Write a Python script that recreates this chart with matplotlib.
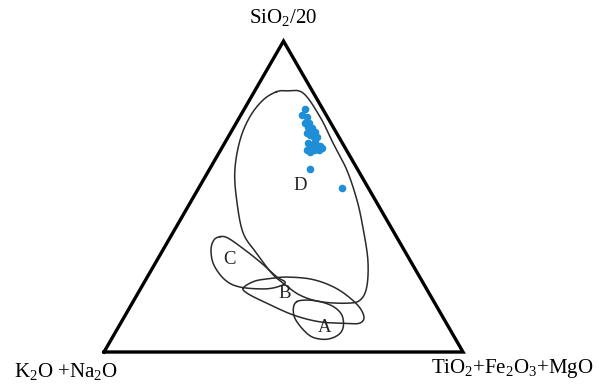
#SiO2/20 - (K2O+Na2O) - (TiO2+Fe2O3+MgO) 三角図
import numpy as np
from matplotlib import pyplot as plt

plt.rcParams['font.family'] = ['Liberation Serif', 'DejaVu Serif']
plt.rcParams['mathtext.fontset'] = 'custom'
plt.rcParams['mathtext.rm'] = 'Liberation Serif'
plt.rcParams['mathtext.it'] = 'Liberation Serif:italic'

# 頂点ラベル
top_label = 'SiO$_2$/20'
left_label = 'K$_2$O +Na$_2$O'
right_label = 'TiO$_2$+Fe$_2$O$_3$+MgO'

# サンプル (SiO2/20 %, TiO2+Fe2O3+MgO %)
sio2 = [78.1, 76.2, 75.5, 73.6, 73.6, 72.5, 72.0, 70.9, 70.3, 69.8, 69.1, 69.3,
        67.6, 67.1, 66.0, 66.0, 66.3, 65.0, 64.4, 65.0, 65.0, 65.5, 58.8, 52.8]
femg = [16.9, 17.0, 18.8, 19.1, 20.4, 20.6, 22.0, 23.3, 21.4, 22.6, 23.9, 24.7,
        25.0, 23.3, 24.9, 26.3, 27.1, 24.1, 25.3, 25.9, 27.3, 28.0, 28.0, 40.0]

# 区分領域の境界 (SiO2/20 %, TiO2+Fe2O3+MgO %)
field_d_si = [83.7, 84.0, 83.3, 75.6, 67.2, 58.5, 48.9, 40.2, 29.6, 21.0, 16.7, 15.7,
              16.2, 18.3, 22.1, 25.3, 31.7, 38.3, 48.9, 58.5, 68.2, 75.7, 81.1]
field_d_fe = [6.2, 8.9, 13.8, 22.4, 30.2, 38.4, 46.0, 52.0, 58.7, 62.7, 63.0, 59.8,
              52.1, 45.4, 38.9, 34.1, 26.7, 19.6, 12.5, 7.2, 3.8, 2.8, 3.8]
field_c_si = [37.1, 36.6, 32.8, 28.5, 24.2, 22.5, 21.2, 20.3, 20.9, 23.2, 28.0, 32.8, 36.0]
field_c_fe = [13.8, 16.3, 22.9, 29.7, 36.0, 39.2, 38.4, 34.7, 27.4, 22.1, 16.6, 13.4, 12.6]
field_b_si = [20.6, 22.8, 23.6, 24.1, 23.3, 20.3, 15.4, 11.4, 9.3, 9.2, 9.7, 11.9, 15.7, 18.7]
field_b_fe = [28.5, 30.6, 34.4, 38.9, 46.6, 54.8, 62.7, 66.7, 66.6, 63.0, 55.3, 46.8, 37.5, 30.8]
field_a_si = [16.2, 16.7, 16.2, 14.6, 11.9, 8.1, 5.5, 4.1, 4.7, 7.1, 10.8, 14.1]
field_a_fe = [45.6, 48.1, 52.1, 56.6, 60.3, 62.6, 62.5, 60.0, 55.9, 52.0, 47.8, 45.7]

field_names = ['D', 'C', 'B', 'A']
name_si = [53.4, 29.9, 18.7, 8.0]
name_fe = [27.9, 20.1, 41.1, 57.5]


def tern(si, fe):
    si = np.asarray(si, dtype=float)
    fe = np.asarray(fe, dtype=float)
    return fe + si / 2, si * np.sqrt(3) / 2


def smooth_closed(x, y, n=20):
    # 閉曲線を Catmull-Rom でなめらかにする
    p = np.column_stack([x, y])
    m = len(p)
    t = np.linspace(0, 1, n, endpoint=False)[:, None]
    out = []
    for i in range(m):
        p0, p1, p2, p3 = p[i - 1], p[i], p[(i + 1) % m], p[(i + 2) % m]
        out.append(0.5 * (2 * p1 + (-p0 + p2) * t + (2 * p0 - 5 * p1 + 4 * p2 - p3) * t ** 2
                          + (-p0 + 3 * p1 - 3 * p2 + p3) * t ** 3))
    out = np.vstack(out + [out[0][:1]])
    return out[:, 0], out[:, 1]


fig = plt.figure(figsize=(5.99, 3.84), dpi=100)
ax = fig.add_axes([0, 0, 1, 1])
ax.set_xlim(-28.97, 137.88)
ax.set_ylim(-8.91, 98.05)
ax.axis('off')

# 三角形の枠
tx, ty = tern([0, 0, 100, 0], [0, 100, 0, 0])
ax.plot(tx, ty, color='black', lw=2.4, solid_joinstyle='miter')

for fsi, ffe in [(field_d_si, field_d_fe), (field_c_si, field_c_fe),
                 (field_b_si, field_b_fe), (field_a_si, field_a_fe)]:
    fx, fy = tern(fsi, ffe)
    sx, sy = smooth_closed(fx, fy)
    ax.plot(sx, sy, color='#2a2a2a', lw=1.1)

for name, nsi, nfe in zip(field_names, name_si, name_fe):
    lx, ly = tern([nsi], [nfe])
    ax.text(lx[0], ly[0], name, fontsize=13.5, ha='center', va='center', color='#222222')

px, py = tern(sio2, femg)
ax.scatter(px, py, s=30, color='#1e8ed6', zorder=3, linewidths=0)

fig.text(283 / 599, 1 - 18 / 384, top_label, fontsize=15, ha='center', va='center')
fig.text(66 / 599, 1 - 371 / 384, left_label, fontsize=15, ha='center', va='center')
fig.text(512 / 599, 1 - 369 / 384, right_label, fontsize=15, ha='center', va='center')

fig.savefig('out.png', dpi=100)
